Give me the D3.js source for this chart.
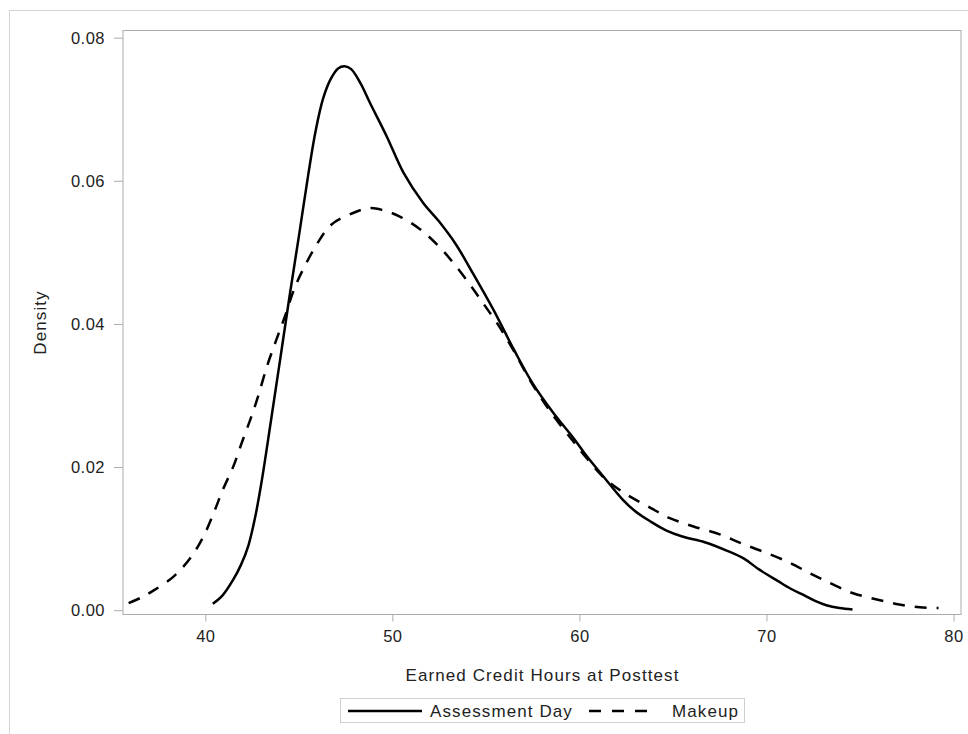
<!DOCTYPE html>
<html>
<head>
<meta charset="utf-8">
<script src="https://cdn.jsdelivr.net/npm/d3@7"></script>
<style>
  html, body { margin: 0; padding: 0; background: #fff; }
  svg { display: block; }
  text { font-family: "Liberation Sans", Arial, sans-serif; fill: #222; }
</style>
</head>
<body>
<svg id="chart" width="968" height="734"></svg>
<script>
// Kernel density estimates of earned credit hours, by test session
const assessX = [40.4, 40.9, 41.5, 41.9, 42.3, 42.65, 43.0, 43.5, 44.0, 44.5, 45.0, 45.5, 45.9, 46.3, 46.7, 47.1, 47.45, 47.8, 48.3, 48.8, 49.7, 50.6, 51.65, 52.5, 53.4, 54.3, 55.4, 56.5, 57.5, 58.6, 59.7, 60.4, 61.4, 62.3, 63.0, 63.8, 64.6, 65.5, 66.7, 67.9, 68.8, 69.6, 70.6, 71.3, 72.0, 72.6, 73.2, 73.9, 74.6];
const assessY = [0.0009, 0.0020, 0.0043, 0.0063, 0.0090, 0.0128, 0.0178, 0.0263, 0.0350, 0.0438, 0.0522, 0.0608, 0.0670, 0.0715, 0.0742, 0.0757, 0.0760, 0.0756, 0.0736, 0.0709, 0.0662, 0.0611, 0.0569, 0.0543, 0.0511, 0.0471, 0.0420, 0.0364, 0.0317, 0.0276, 0.0240, 0.0215, 0.0183, 0.0155, 0.0138, 0.0124, 0.0112, 0.0103, 0.0095, 0.0083, 0.0072, 0.0057, 0.0041, 0.0030, 0.0021, 0.0013, 0.0007, 0.0003, 0.0001];

const makeupX = [35.9, 36.6, 37.2, 38.3, 39.2, 39.9, 40.45, 40.95, 41.5, 41.95, 42.4, 42.8, 43.3, 43.8, 44.25, 44.8, 45.4, 46.0, 46.75, 47.9, 48.8, 49.5, 50.4, 51.5, 52.5, 53.3, 54.15, 54.85, 55.65, 56.5, 57.5, 58.6, 59.7, 60.4, 61.4, 62.5, 63.8, 64.8, 66.1, 67.5, 68.6, 69.8, 71.1, 72.3, 73.4, 74.6, 75.9, 77.1, 78.2, 79.2];
const makeupY = [0.0010, 0.0018, 0.0027, 0.0047, 0.0073, 0.0103, 0.0136, 0.0169, 0.0201, 0.0234, 0.0266, 0.0297, 0.0341, 0.0378, 0.0410, 0.0452, 0.0485, 0.0513, 0.0539, 0.0555, 0.0562, 0.0559, 0.0550, 0.0532, 0.0508, 0.0484, 0.0455, 0.0429, 0.0399, 0.0362, 0.0315, 0.0272, 0.0235, 0.0212, 0.0183, 0.0162, 0.0143, 0.0129, 0.0117, 0.0106, 0.0094, 0.0082, 0.0068, 0.0052, 0.0038, 0.0024, 0.0015, 0.0008, 0.0004, 0.0003];

const seriesNames = ["Assessment Day", "Makeup"];
const xTicks = [40, 50, 60, 70, 80];
const yTicks = [0.00, 0.02, 0.04, 0.06, 0.08];
const xTitle = "Earned Credit Hours at Posttest";
const yTitle = "Density";

const svg = d3.select("#chart");
const axisColor = "#a9acb0";
const plot = { left: 123, right: 961, top: 30.5, bottom: 614.5 };
const fontFamily = "'Liberation Sans', Arial, sans-serif";

const x = d3.scaleLinear().domain([35.6, 80.4]).range([plot.left, plot.right]);
const y = d3.scaleLinear().domain([-0.0006, 0.0810]).range([plot.bottom, plot.top]);

// outer graph border
svg.append("rect")
  .attr("x", 9.5).attr("y", 10.5).attr("width", 980).attr("height", 740)
  .attr("fill", "none").attr("stroke", "#d4d4d4");

// axes
const xAxis = svg.append("g")
  .attr("transform", `translate(0,${plot.bottom})`)
  .call(d3.axisBottom(x).tickValues(xTicks).tickSize(7).tickPadding(9).tickFormat(d3.format("d")));
const yAxis = svg.append("g")
  .attr("transform", `translate(${plot.left},0)`)
  .call(d3.axisLeft(y).tickValues(yTicks).tickSize(9).tickPadding(9).tickFormat(d3.format(".2f")));

[xAxis, yAxis].forEach(g => {
  g.select(".domain").remove();
  g.selectAll(".tick line").attr("stroke", axisColor);
  g.selectAll(".tick text")
    .attr("font-family", fontFamily)
    .attr("font-size", 16.5).attr("fill", "#222").style("letter-spacing", "0.5px");
});
yAxis.selectAll(".tick text").attr("dy", "0.35em");

// plot frame
svg.append("rect")
  .attr("x", plot.left).attr("y", plot.top)
  .attr("width", plot.right - plot.left).attr("height", plot.bottom - plot.top)
  .attr("fill", "none").attr("stroke", axisColor);

// axis titles
svg.append("text")
  .attr("x", (plot.left + plot.right) / 2 + 0.5).attr("y", 681)
  .attr("text-anchor", "middle").attr("font-size", 17).style("letter-spacing", "1.1px")
  .text(xTitle);
svg.append("text")
  .attr("transform", `translate(46,${(plot.top + plot.bottom) / 2}) rotate(-90)`)
  .attr("text-anchor", "middle").attr("font-size", 17).style("letter-spacing", "1.1px")
  .text(yTitle);

// density curves
const line = d3.line().x(d => x(d[0])).y(d => y(d[1])).curve(d3.curveCatmullRom.alpha(0.5));
const assess = d3.zip(assessX, assessY);
const makeup = d3.zip(makeupX, makeupY);

svg.append("path").datum(makeup)
  .attr("d", line).attr("fill", "none").attr("stroke", "#000")
  .attr("stroke-width", 2.5).attr("stroke-dasharray", "12,10");
svg.append("path").datum(assess)
  .attr("d", line).attr("fill", "none").attr("stroke", "#000")
  .attr("stroke-width", 2.5);

// legend
const lg = svg.append("g");
lg.append("rect").attr("x", 340.5).attr("y", 698.5).attr("width", 404).attr("height", 24)
  .attr("fill", "#fff").attr("stroke", "#cfcfcf");
lg.append("line").attr("x1", 348).attr("x2", 422).attr("y1", 711).attr("y2", 711)
  .attr("stroke", "#000").attr("stroke-width", 2.5);
lg.append("text").attr("x", 430).attr("y", 717).attr("font-size", 17)
  .style("letter-spacing", "1.1px").text(seriesNames[0]);
lg.append("line").attr("x1", 589).attr("x2", 653).attr("y1", 711).attr("y2", 711)
  .attr("stroke", "#000").attr("stroke-width", 2.5).attr("stroke-dasharray", "12,11");
lg.append("text").attr("x", 672).attr("y", 717).attr("font-size", 17)
  .style("letter-spacing", "1.1px").text(seriesNames[1]);
</script>
</body>
</html>
